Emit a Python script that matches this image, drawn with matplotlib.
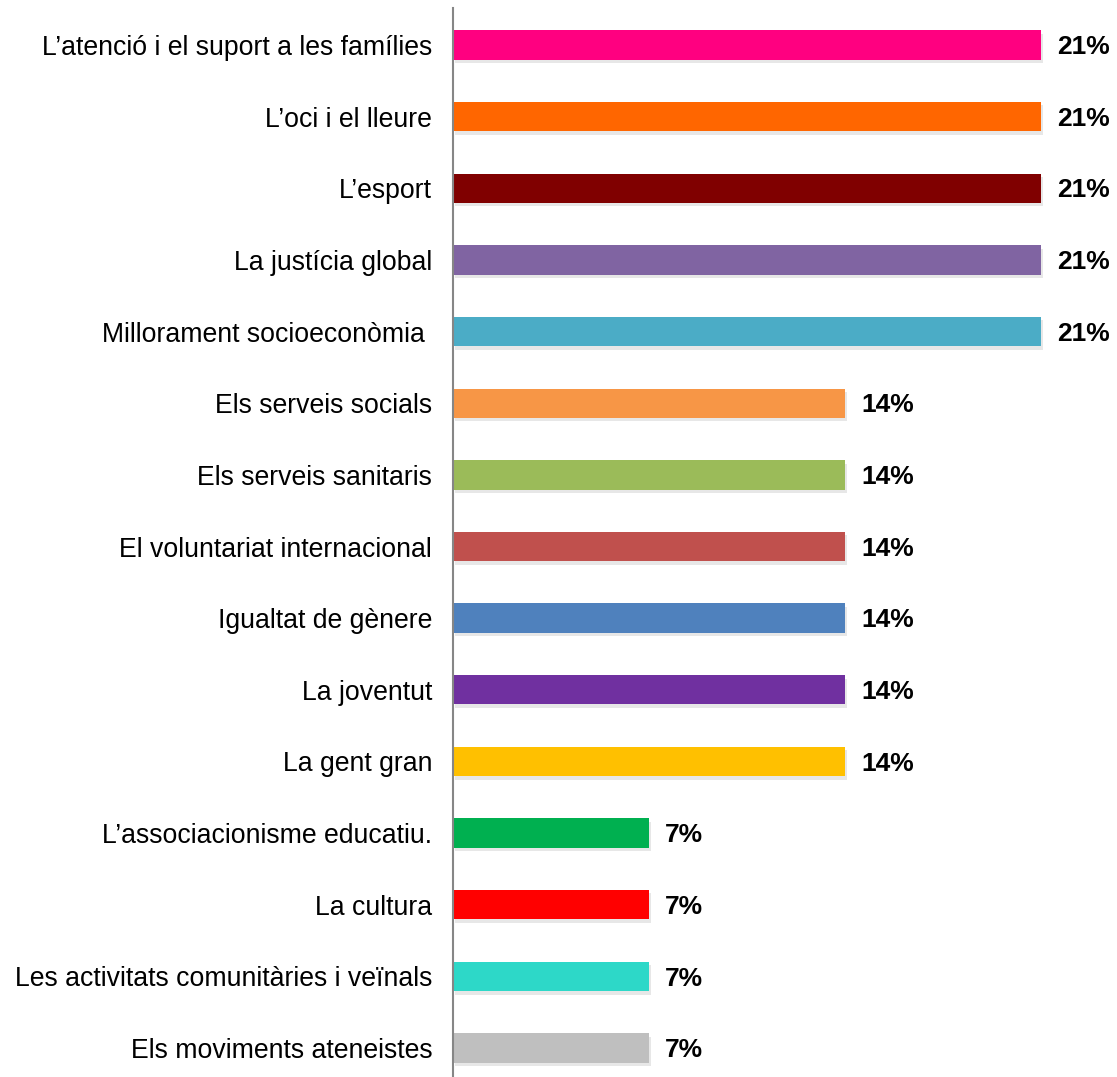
import numpy as np
import matplotlib
matplotlib.use("Agg")
import matplotlib.pyplot as plt
import matplotlib.patheffects as pe

plt.rcParams['font.family'] = ['Liberation Sans', 'DejaVu Sans']

# dades
categories = [
    "L\u2019atenció i el suport a les famílies",
    "L\u2019oci i el lleure",
    "L\u2019esport",
    "La justícia global",
    "Millorament socioeconòmia ",
    "Els serveis socials",
    "Els serveis sanitaris",
    "El voluntariat internacional",
    "Igualtat de gènere",
    "La joventut",
    "La gent gran",
    "L\u2019associacionisme educatiu.",
    "La cultura",
    "Les activitats comunitàries i veïnals",
    "Els moviments ateneistes",
]
values = [21, 21, 21, 21, 21, 14, 14, 14, 14, 14, 14, 7, 7, 7, 7]
colors = ["#FF0080", "#FF6600", "#800000", "#8064A2", "#4BACC6",
          "#F79646", "#9BBB59", "#C0504D", "#4F81BD", "#7030A0",
          "#FFC000", "#00B050", "#FF0000", "#2DD8C8", "#BFBFBF"]

fig = plt.figure(figsize=(11.17, 10.77), dpi=100)
ax = fig.add_axes([453 / 1117, 0, 1 - 453 / 1117, 1 - 8 / 1077])

y = np.arange(len(categories))
bars = ax.barh(y, values, height=0.41, color=colors, zorder=2)
for b in bars:
    b.set_path_effects([pe.SimplePatchShadow(offset=(1.5, -2.5), shadow_rgbFace='#b0b0b0', alpha=0.3),
                        pe.Normal()])

for yi, v in zip(y, values):
    ax.text(v + 0.57, yi + 0.03, f"{v}%", va='center', ha='left',
            fontsize=19, fontweight='bold', color='black')

ax.set_xlim(0, 664 / 28)
ax.set_ylim(14 + 29 / 71.64, -37 / 71.64)
ax.set_yticks(y)
ax.set_yticklabels(categories, fontsize=19.2)
ax.tick_params(axis='y', length=0, pad=15)
ax.set_xticks([])
for s in ['top', 'right', 'bottom']:
    ax.spines[s].set_visible(False)
ax.spines['left'].set_color('#868686')
ax.spines['left'].set_linewidth(1.5)

fig.savefig("out.png", dpi=100)
